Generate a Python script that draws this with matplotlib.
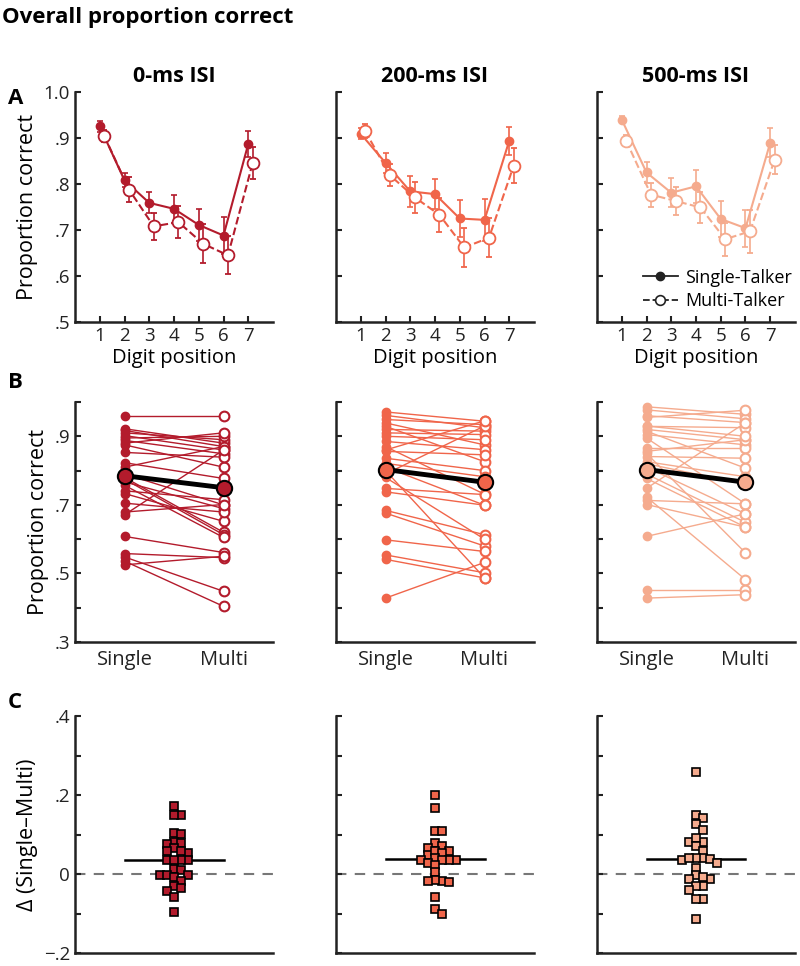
import matplotlib
matplotlib.use('Agg')
import numpy as np
import matplotlib.pyplot as plt
from matplotlib.lines import Line2D

plt.rcParams['font.family'] = ['Open Sans', 'DejaVu Sans']

# ---- data ----
isi_titles = ['0-ms ISI', '200-ms ISI', '500-ms ISI']
colors = ['#b31b2c', '#f0654a', '#f5ab8e']
digit_pos = [1, 2, 3, 4, 5, 6, 7]

# row A: mean proportion correct per digit position
single_mean = [
    [0.925, 0.808, 0.759, 0.746, 0.711, 0.688, 0.887],
    [0.909, 0.846, 0.784, 0.778, 0.725, 0.722, 0.894],
    [0.940, 0.825, 0.781, 0.795, 0.724, 0.704, 0.890],
]
single_err = [
    [0.012, 0.015, 0.023, 0.031, 0.035, 0.040, 0.029],
    [0.012, 0.022, 0.033, 0.033, 0.040, 0.046, 0.030],
    [0.008, 0.023, 0.031, 0.036, 0.040, 0.040, 0.031],
]
multi_mean = [
    [0.905, 0.788, 0.708, 0.717, 0.670, 0.645, 0.846],
    [0.915, 0.819, 0.771, 0.733, 0.662, 0.683, 0.840],
    [0.894, 0.777, 0.763, 0.749, 0.680, 0.697, 0.853],
]
multi_err = [
    [0.013, 0.027, 0.030, 0.035, 0.042, 0.041, 0.035],
    [0.016, 0.024, 0.033, 0.037, 0.043, 0.042, 0.038],
    [0.012, 0.026, 0.030, 0.033, 0.036, 0.046, 0.031],
]

# row B: individual listeners (single, multi)
subj_single = [
    [.959, .922, .917, .910, .902, .895, .888, .880, .875, .853, .823, .810, .790, .780,
     .775, .767, .757, .741, .733, .705, .679, .671, .608, .558, .548, .536, .525],
    [.971, .961, .949, .939, .929, .920, .910, .900, .885, .870, .856, .836, .821, .810,
     .800, .790, .748, .738, .684, .676, .598, .554, .541, .428, .780, .860],
    [.986, .977, .960, .955, .929, .920, .915, .905, .895, .866, .856, .841, .826, .810,
     .790, .777, .748, .723, .713, .701, .608, .453, .428, .850, .930, .820],
]
subj_multi = [
    [.959, .880, .870, .890, .860, .900, .849, .910, .810, .839, .777, .870, .700, .620,
     .613, .689, .605, .715, .652, .679, .701, .860, .561, .546, .448, .404, .550],
    [.944, .925, .934, .875, .826, .915, .905, .890, .861, .731, .846, .800, .782, .699,
     .487, .930, .730, .699, .613, .580, .564, .502, .487, .532, .600, .945],
    [.964, .951, .940, .976, .925, .890, .807, .875, .703, .866, .890, .836, .782, .674,
     .649, .635, .940, .482, .703, .635, .674, .453, .438, .560, .900, .760],
]
group_mean_single = [0.785, 0.803, 0.803]
group_mean_multi = [0.750, 0.766, 0.766]

# row C: single minus multi per listener
delta = [
    [0.172, 0.150, 0.150, 0.105, 0.102, 0.082, 0.076, 0.078, 0.066, 0.057, 0.053, 0.057,
     0.036, 0.036, 0.036, 0.036, 0.013, 0.011, -0.002, -0.002, -0.002, -0.008, -0.018,
     -0.031, -0.044, -0.035, -0.059, -0.097],
    [0.200, 0.166, 0.110, 0.108, 0.078, 0.070, 0.066, 0.049, 0.057, 0.057, 0.053, 0.040,
     0.036, 0.036, 0.036, 0.036, 0.028, 0.024, 0.004, -0.018, -0.021, -0.014, -0.018,
     -0.059, -0.088, -0.100],
    [0.259, 0.150, 0.141, 0.126, 0.112, 0.082, 0.082, 0.091, 0.070, 0.057, 0.040, 0.038,
     0.040, 0.036, 0.040, 0.028, 0.015, -0.002, -0.013, -0.008, -0.013, -0.031, -0.031,
     -0.041, -0.063, -0.063, -0.113],
]
delta_mean = [0.036, 0.037, 0.038]


def swarm_offsets(vals, step=0.072, gap=0.016):
    # simple beeswarm: place each point at the nearest free column
    order = np.argsort(vals)[::-1]
    placed = []
    offs = np.zeros(len(vals))
    for i in order:
        for k in [0, 1, -1, 2, -2, 3, -3, 4, -4]:
            ok = all(not (pk == k and abs(vals[i] - pv) < gap) for pk, pv in placed)
            if ok:
                offs[i] = k * step
                placed.append((k, vals[i]))
                break
    return offs


def style_ax(ax):
    for s in ['top', 'right']:
        ax.spines[s].set_visible(False)
    for s in ['left', 'bottom']:
        ax.spines[s].set_linewidth(1.8)
        ax.spines[s].set_color('#222222')
    ax.tick_params(direction='in', length=4, width=1.5, labelsize=13.5, colors='#222222')


fig = plt.figure(figsize=(8, 9.66), dpi=100)
W, H = 800.0, 966.0
lefts = [75, 336, 597]
aw = 198

fig.text(2 / W, 1 - 17 / H, 'Overall proportion correct', fontsize=16, fontweight='bold',
         va='center', ha='left')
fig.text(8 / W, 1 - 98 / H, 'A', fontsize=16, fontweight='bold', va='center')
fig.text(8 / W, 1 - 383 / H, 'B', fontsize=16, fontweight='bold', va='center')
fig.text(8 / W, 1 - 703 / H, 'C', fontsize=16, fontweight='bold', va='center')

for p in range(3):
    c = colors[p]
    x0 = lefts[p] / W

    # ---- row A ----
    ax = fig.add_axes([x0, 1 - 322 / H, aw / W, 230 / H])
    style_ax(ax)
    xs = np.array(digit_pos)
    ax.errorbar(xs, single_mean[p], yerr=single_err[p], color=c, lw=1.5, marker='o',
                ms=6, mfc=c, mec=c, capsize=2.5, elinewidth=1.2, capthick=1.2)
    ax.errorbar(xs + 0.18, multi_mean[p], yerr=multi_err[p], color=c, lw=1.5, ls='--',
                marker='o', ms=8.5, mfc='white', mec=c, mew=1.3, capsize=2.5,
                elinewidth=1.2, capthick=1.2)
    ax.set_xlim(0, 8)
    ax.set_ylim(0.5, 1.0)
    ax.set_xticks(digit_pos)
    ax.set_yticks([0.5, 0.6, 0.7, 0.8, 0.9, 1.0])
    ax.set_xlabel('Digit position', fontsize=14.5, labelpad=2)
    ax.set_title(isi_titles[p], fontsize=15.5, fontweight='bold', pad=7)
    if p == 0:
        ax.set_yticklabels(['.5', '.6', '.7', '.8', '.9', '1.0'])
        ax.set_ylabel('Proportion correct', fontsize=15.5, labelpad=4)
    else:
        ax.set_yticklabels([])
    if p == 2:
        h1 = Line2D([], [], color='#222222', lw=1.3, marker='o', ms=6)
        h2 = Line2D([], [], color='#222222', lw=1.3, ls='--', marker='o', ms=7,
                    mfc='white', mew=1.2)
        ax.legend([h1, h2], ['Single-Talker', 'Multi-Talker'], loc='lower right',
                  frameon=False, fontsize=13, handlelength=1.9, handletextpad=0.4,
                  borderaxespad=0.0, labelspacing=0.3, bbox_to_anchor=(1.02, 0.02))

    # ---- row B ----
    ax = fig.add_axes([x0, 1 - 642 / H, aw / W, 240 / H])
    style_ax(ax)
    for s_val, m_val in zip(subj_single[p], subj_multi[p]):
        ax.plot([1, 2], [s_val, m_val], color=c, lw=1.0, zorder=1)
    ax.plot(np.ones(len(subj_single[p])), subj_single[p], 'o', color=c, ms=6, zorder=2)
    ax.plot(np.full(len(subj_multi[p]), 2), subj_multi[p], 'o', mfc='white', mec=c,
            mew=1.5, ms=7, zorder=2)
    ax.plot([1, 2], [group_mean_single[p], group_mean_multi[p]], color='black', lw=3.5,
            zorder=3)
    ax.plot([1, 2], [group_mean_single[p], group_mean_multi[p]], 'o', mfc=c, mec='black',
            mew=1.5, ms=11, zorder=4)
    ax.set_xlim(0.5, 2.5)
    ax.set_ylim(0.3, 1.0)
    ax.set_xticks([1, 2])
    ax.set_xticklabels(['Single', 'Multi'], fontsize=14.5)
    ax.tick_params(axis='x', length=0, pad=6)
    ax.set_yticks(np.arange(0.3, 1.01, 0.1))
    if p == 0:
        ax.set_yticklabels(['.3', '', '.5', '', '.7', '', '.9', ''])
        ax.set_ylabel('Proportion correct', fontsize=15.5, labelpad=4)
    else:
        ax.set_yticklabels([])

    # ---- row C ----
    ax = fig.add_axes([x0, 1 - 953 / H, aw / W, 237 / H])
    style_ax(ax)
    d = np.array(delta[p])
    ax.axhline(0, color='#777777', lw=1.5, ls=(0, (5, 4)), zorder=1)
    ax.plot(1.5 + swarm_offsets(d), d, 's', mfc=c, mec='black', mew=1.2, ms=5.8, zorder=3)
    ax.plot([1, 2], [delta_mean[p], delta_mean[p]], color='black', lw=1.8, zorder=2)
    ax.set_xlim(0.5, 2.5)
    ax.set_ylim(-0.2, 0.4)
    ax.set_xticks([])
    ax.set_yticks([-0.2, -0.1, 0, 0.1, 0.2, 0.3, 0.4])
    if p == 0:
        ax.set_yticklabels(['\u2212.2', '', '0', '', '.2', '', '.4'])
        ax.set_ylabel('\u0394 (Single\u2013Multi)', fontsize=15.5, labelpad=4)
    else:
        ax.set_yticklabels([])

fig.savefig('out.png', dpi=100)
